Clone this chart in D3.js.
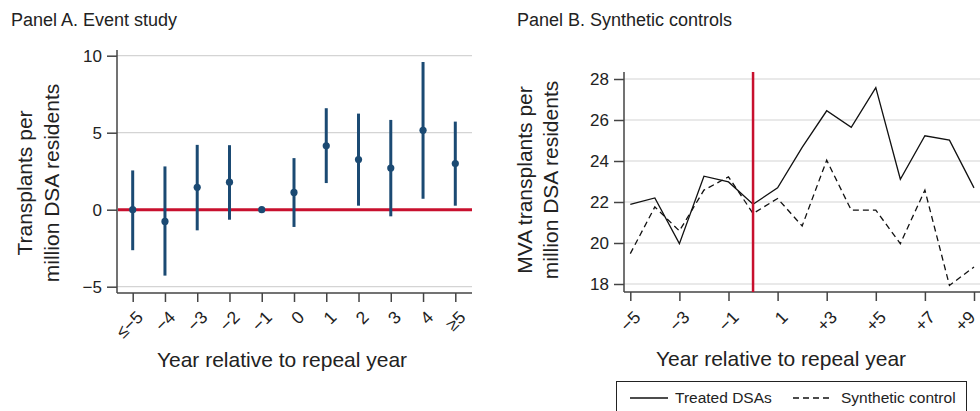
<!DOCTYPE html>
<html>
<head>
<meta charset="utf-8">
<script src="https://cdn.jsdelivr.net/npm/d3@7"></script>
<style>
  body { margin: 0; background: #fff; }
  svg text { font-family: "Liberation Sans", Arial, sans-serif; fill: #222; }
</style>
</head>
<body>
<div id="chart"></div>
<script>
// Panel A: event study estimates with 95% CI
const eventLabels = ["\u2264\u22125", "\u22124", "\u22123", "\u22122", "\u22121", "0", "1", "2", "3", "4", "\u22655"];
const eventEst = [0.0, -0.76, 1.45, 1.79, 0.0, 1.12, 4.15, 3.26, 2.70, 5.16, 3.0];
const eventLo = [-2.63, -4.28, -1.34, -0.65, null, -1.12, 1.73, 0.26, -0.43, 0.71, 0.26];
const eventHi = [2.55, 2.81, 4.21, 4.19, null, 3.35, 6.59, 6.24, 5.83, 9.59, 5.72];
const eventTicks = [-5, 0, 5, 10];

// Panel B: synthetic controls
const years = [-5, -4, -3, -2, -1, 0, 1, 2, 3, 4, 5, 6, 7, 8, 9];
const treated = [21.89, 22.2, 19.97, 23.26, 22.98, 21.89, 22.69, 24.66, 26.45, 25.64, 27.58, 23.11, 25.23, 25.02, 22.69];
const synthetic = [19.48, 21.76, 20.59, 22.58, 23.23, 21.44, 22.17, 20.83, 24.04, 21.6, 21.6, 19.97, 22.58, 17.93, 18.83];
const synthTickYears = [-5, -3, -1, 1, 3, 5, 7, 9];
const synthTickLabels = ["\u22125", "\u22123", "\u22121", "1", "+3", "+5", "+7", "+9"];
const synthYTicks = [18, 20, 22, 24, 26, 28];

const W = 980, H = 411;
const blue = "#1b4a73", red = "#c8102e", grid = "#d4d4d4", axisCol = "#444";

const svg = d3.select("#chart").append("svg")
  .attr("width", W)
  .attr("height", H);

// ---------- Panel A ----------
const a = { left: 117, right: 472, top: 50, bottom: 293 };

svg.append("text")
  .attr("x", 11).attr("y", 26)
  .style("font-size", "18px")
  .text("Panel A. Event study");

const xA = d3.scalePoint()
  .domain(eventLabels)
  .range([132.7, 455.3]);

const yA = d3.scaleLinear()
  .domain([-5, 10])
  .range([286.7, 55.7]);

// gridlines
svg.append("g")
  .selectAll("line")
  .data(eventTicks)
  .enter().append("line")
  .attr("x1", a.left).attr("x2", a.right)
  .attr("y1", d => yA(d)).attr("y2", d => yA(d))
  .attr("stroke", grid).attr("stroke-width", 1.2);

// y axis
const yAxisA = svg.append("g")
  .attr("transform", `translate(${a.left},0)`)
  .call(d3.axisLeft(yA).tickValues(eventTicks).tickSize(10).tickPadding(5)
    .tickFormat(d => d < 0 ? "\u2212" + Math.abs(d) : d));
yAxisA.select(".domain").attr("d", `M0,${a.top}V${a.bottom}`);

// x axis
const xAxisA = svg.append("g")
  .attr("transform", `translate(0,${a.bottom})`)
  .call(d3.axisBottom(xA).tickSize(9).tickFormat(""));
xAxisA.select(".domain").attr("d", `M${a.left},0H${a.right}`);

svg.append("g")
  .selectAll("text")
  .data(eventLabels)
  .enter().append("text")
  .attr("transform", d => `translate(${xA(d) + 7},${314}) rotate(-45)`)
  .attr("text-anchor", "end")
  .attr("dy", "0.35em")
  .style("font-size", "17.5px")
  .text(d => d);

// zero line
svg.append("line")
  .attr("x1", a.left + 1).attr("x2", a.right)
  .attr("y1", yA(0)).attr("y2", yA(0))
  .attr("stroke", red).attr("stroke-width", 3);

// CI bars
svg.append("g")
  .selectAll("line")
  .data(eventLabels.map((l, i) => ({ l, lo: eventLo[i], hi: eventHi[i] })).filter(d => d.lo !== null))
  .enter().append("line")
  .attr("x1", d => xA(d.l)).attr("x2", d => xA(d.l))
  .attr("y1", d => yA(d.lo)).attr("y2", d => yA(d.hi))
  .attr("stroke", blue).attr("stroke-width", 3);

svg.append("g")
  .selectAll("circle")
  .data(eventLabels.map((l, i) => ({ l, v: eventEst[i] })))
  .enter().append("circle")
  .attr("cx", d => xA(d.l)).attr("cy", d => yA(d.v))
  .attr("r", 3.6)
  .attr("fill", blue);

svg.append("text")
  .attr("transform", "translate(32,183) rotate(-90)")
  .attr("text-anchor", "middle")
  .style("font-size", "21px")
  .text("Transplants per");
svg.append("text")
  .attr("transform", "translate(59,183) rotate(-90)")
  .attr("text-anchor", "middle")
  .style("font-size", "21px")
  .text("million DSA residents");

svg.append("text")
  .attr("x", 282).attr("y", 367)
  .attr("text-anchor", "middle")
  .style("font-size", "21px")
  .text("Year relative to repeal year");

// ---------- Panel B ----------
const b = { left: 624, right: 980, top: 72, bottom: 292 };

svg.append("text")
  .attr("x", 517).attr("y", 26)
  .style("font-size", "18px")
  .text("Panel B. Synthetic controls");

const xB = d3.scaleLinear()
  .domain([-5, 9])
  .range([630.3, 974]);

const yB = d3.scaleLinear()
  .domain([18, 28])
  .range([284, 79]);

svg.append("g")
  .selectAll("line")
  .data(synthYTicks)
  .enter().append("line")
  .attr("x1", b.left).attr("x2", b.right)
  .attr("y1", d => yB(d)).attr("y2", d => yB(d))
  .attr("stroke", grid).attr("stroke-width", 1.2);

const yAxisB = svg.append("g")
  .attr("transform", `translate(${b.left},0)`)
  .call(d3.axisLeft(yB).tickValues(synthYTicks).tickSize(10).tickPadding(5));
yAxisB.select(".domain").attr("d", `M0,${b.top}V${b.bottom}`);

const xAxisB = svg.append("g")
  .attr("transform", `translate(0,${b.bottom})`)
  .call(d3.axisBottom(xB).tickValues(synthTickYears).tickSize(9).tickFormat(""));
xAxisB.select(".domain").attr("d", `M${b.left},0H${b.right}`);

svg.append("g")
  .selectAll("text")
  .data(synthTickYears)
  .enter().append("text")
  .attr("transform", d => `translate(${Math.min(xB(d) + 7, 972)},${314}) rotate(-45)`)
  .attr("text-anchor", "end")
  .attr("dy", "0.35em")
  .style("font-size", "17.5px")
  .text((d, i) => synthTickLabels[i]);

const line = d3.line()
  .x((d, i) => xB(years[i]))
  .y(d => yB(d));

svg.append("path")
  .datum(treated)
  .attr("d", line)
  .attr("fill", "none")
  .attr("stroke", "#111").attr("stroke-width", 1.3);

svg.append("path")
  .datum(synthetic)
  .attr("d", line)
  .attr("fill", "none")
  .attr("stroke", "#111").attr("stroke-width", 1.3)
  .attr("stroke-dasharray", "6,4");

svg.append("line")
  .attr("x1", xB(0)).attr("x2", xB(0))
  .attr("y1", b.top).attr("y2", b.bottom)
  .attr("stroke", red).attr("stroke-width", 2.5);

svg.selectAll(".domain, .tick line").attr("stroke", axisCol).attr("stroke-width", 1.5);
svg.selectAll(".tick text").style("font-size", "17px").attr("fill", "#222");

svg.append("text")
  .attr("transform", "translate(532,180) rotate(-90)")
  .attr("text-anchor", "middle")
  .style("font-size", "21px")
  .text("MVA transplants per");
svg.append("text")
  .attr("transform", "translate(558,180) rotate(-90)")
  .attr("text-anchor", "middle")
  .style("font-size", "21px")
  .text("million DSA residents");

svg.append("text")
  .attr("x", 781).attr("y", 366)
  .attr("text-anchor", "middle")
  .style("font-size", "21px")
  .text("Year relative to repeal year");

// legend
const legend = svg.append("g");
legend.append("rect")
  .attr("x", 616.5).attr("y", 381.5)
  .attr("width", 350).attr("height", 40)
  .attr("fill", "none").attr("stroke", "#222").attr("stroke-width", 1);
legend.append("line")
  .attr("x1", 630).attr("x2", 668).attr("y1", 398).attr("y2", 398)
  .attr("stroke", "#111").attr("stroke-width", 1.3);
legend.append("text")
  .attr("x", 675).attr("y", 403)
  .style("font-size", "15.5px")
  .text("Treated DSAs");
legend.append("line")
  .attr("x1", 793).attr("x2", 833).attr("y1", 398).attr("y2", 398)
  .attr("stroke", "#111").attr("stroke-width", 1.3)
  .attr("stroke-dasharray", "6,4");
legend.append("text")
  .attr("x", 841).attr("y", 403)
  .style("font-size", "15.5px")
  .text("Synthetic control");
</script>
</body>
</html>
